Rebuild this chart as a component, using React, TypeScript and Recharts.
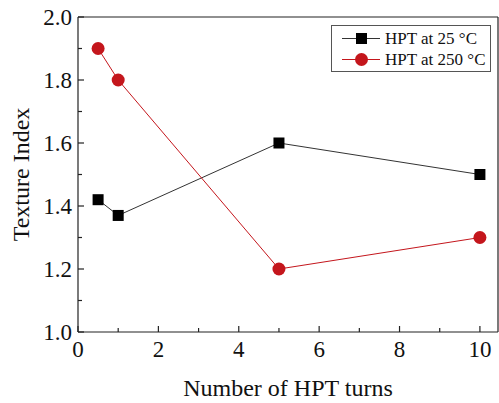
import React from 'react';
import { LineChart, Line, XAxis, YAxis, ReferenceLine } from 'recharts';

const turns = [0.5, 1, 5, 10];
const texture25 = [1.42, 1.37, 1.6, 1.5];
const texture250 = [1.9, 1.8, 1.2, 1.3];
const xTicks = [0, 1, 2, 3, 4, 5, 6, 7, 8, 9, 10];
const yTicks = [1.0, 1.1, 1.2, 1.3, 1.4, 1.5, 1.6, 1.7, 1.8, 1.9, 2.0];
const seriesNames = ['HPT at 25 °C', 'HPT at 250 °C'];

const data = turns.map((t, i) => ({ x: t, a: texture25[i], b: texture250[i] }));

const FONT = "'Liberation Serif', 'Times New Roman', serif";
const RED = '#c4161c';
const BLACK = '#000000';
const AXIS = '#222';

const XTick = (props: any) => {
  const { x, y, payload } = props;
  const v = payload.value;
  const major = v % 2 === 0;
  return (
    <g>
      <line x1={x} x2={x} y1={y} y2={y - (major ? 6 : 4)} stroke={AXIS} strokeWidth={1.2} />
      {major && (
        <text x={x} y={y + 25} textAnchor="middle" style={{ fontFamily: FONT, fontSize: 23 }} fill="#111">
          {v}
        </text>
      )}
    </g>
  );
};

const YTick = (props: any) => {
  const { x, y, payload } = props;
  const v = payload.value;
  const major = Math.round(v * 10) % 2 === 0;
  return (
    <g>
      <line x1={x} x2={x + (major ? 6 : 4)} y1={y} y2={y} stroke={AXIS} strokeWidth={1.2} />
      {major && (
        <text x={x - 6} y={y + 8} textAnchor="end" style={{ fontFamily: FONT, fontSize: 23 }} fill="#111">
          {v.toFixed(1)}
        </text>
      )}
    </g>
  );
};

const SquareDot = (props: any) => {
  const { cx, cy, index } = props;
  return <rect key={`s${index}`} x={cx - 5.5} y={cy - 5.5} width={11} height={11} fill={BLACK} />;
};

const CircleDot = (props: any) => {
  const { cx, cy, index } = props;
  return <circle key={`c${index}`} cx={cx} cy={cy} r={6.5} fill={RED} />;
};

const LegendBox = () => (
  <div
    style={{
      position: 'absolute',
      left: 331,
      top: 25,
      border: '1px solid #555',
      width: 160,
      height: 47,
      boxSizing: 'border-box',
      background: '#fff',
      fontFamily: FONT,
      fontSize: 17,
      color: '#111',
    }}
  >
    {seriesNames.map((name, i) => (
      <div key={name} style={{ display: 'flex', alignItems: 'center', height: 21, marginTop: i === 0 ? 2 : 0 }}>
        <svg width={53} height={21} style={{ flex: 'none' }}>
          <line x1={10} x2={48} y1={10.5} y2={10.5} stroke={i === 0 ? '#333' : RED} strokeWidth={1} />
          {i === 0 ? (
            <rect x={24} y={5} width={11} height={11} fill={BLACK} />
          ) : (
            <circle cx={29.5} cy={10.5} r={6.5} fill={RED} />
          )}
        </svg>
        <span style={{ whiteSpace: 'nowrap', lineHeight: '21px' }}>{name}</span>
      </div>
    ))}
  </div>
);

export default function App() {
  return (
    <div style={{ position: 'absolute', left: 0, top: 0, width: 499, height: 403, background: '#fff' }}>
      <LineChart width={499} height={403} data={data} margin={{ top: 17, right: 1, bottom: 0, left: 0 }}>
        <XAxis
          type="number"
          dataKey="x"
          domain={[0, 10.45]}
          ticks={xTicks}
          interval={0}
          height={71}
          tickSize={0}
          tickMargin={0}
          tick={<XTick />}
          axisLine={{ stroke: AXIS, strokeWidth: 1.2 }}
          tickLine={false}
          label={{ value: 'Number of HPT turns', position: 'insideBottom', offset: 7, style: { fontFamily: FONT, fontSize: 24, fill: '#111' } }}
        />
        <YAxis
          type="number"
          domain={[1, 2]}
          ticks={yTicks}
          interval={0}
          width={78}
          tickSize={0}
          tickMargin={0}
          tick={<YTick />}
          axisLine={{ stroke: AXIS, strokeWidth: 1.2 }}
          tickLine={false}
          label={{ value: 'Texture Index', angle: -90, position: 'center', dx: -19, style: { fontFamily: FONT, fontSize: 24, fill: '#111' } }}
        />
        <ReferenceLine y={2} stroke={AXIS} strokeWidth={1.2} />
        <ReferenceLine x={10.45} stroke={AXIS} strokeWidth={1.2} />
        <Line
          dataKey="a"
          name={seriesNames[0]}
          stroke="#333"
          strokeWidth={1}
          dot={<SquareDot />}
          activeDot={false}
          isAnimationActive={false}
        />
        <Line
          dataKey="b"
          name={seriesNames[1]}
          stroke={RED}
          strokeWidth={1}
          dot={<CircleDot />}
          activeDot={false}
          isAnimationActive={false}
        />
      </LineChart>
      <LegendBox />
    </div>
  );
}
